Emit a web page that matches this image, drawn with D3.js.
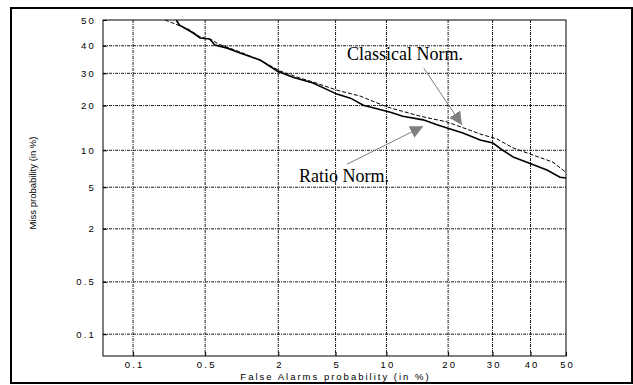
<!DOCTYPE html>
<html>
<head>
<meta charset="utf-8">
<script src="https://cdn.jsdelivr.net/npm/d3@7"></script>
<style>
  body { margin: 0; background: #fff; }
  svg { display: block; }
  .tick text { font-family: "Liberation Sans", Arial, sans-serif; font-size: 9.5px; letter-spacing: 2.2px; fill: #000; }
  .axis-label { font-family: "Liberation Sans", Arial, sans-serif; font-size: 9.5px; fill: #000; }
  .note { font-family: "Liberation Serif", "Times New Roman", serif; font-size: 18px; fill: #000; }
</style>
</head>
<body>
<svg id="chart"></svg>
<script>
// axis ticks (in %)
const xTicks = [0.1, 0.5, 2, 5, 10, 20, 30, 40, 50];
const yTicks = [0.1, 0.5, 2, 5, 10, 20, 30, 40, 50];
const axisMin = 0.0475; // lower limit of both axes (%)
const axisMax = 50;

// Ratio Norm. (solid)
const ratioFA = [0.27, 0.29, 0.39, 0.45, 0.55, 0.61, 0.78, 1.0, 1.45, 1.96, 2.56, 3.55, 5.1, 6.2, 7.4, 10.5, 12.2, 15.4, 18.0, 19.8, 23.1, 27.0, 30.1, 32.6, 35.3, 39.0, 44.6, 48.3, 50];
const ratioMiss = [50, 48.0, 44.9, 43.0, 42.6, 40.3, 39.1, 37.3, 34.7, 30.8, 28.7, 26.8, 23.3, 22.1, 20.1, 18.2, 17.2, 16.3, 15.1, 14.4, 13.3, 11.9, 11.3, 10.0, 8.9, 8.1, 7.0, 6.1, 6.0];

// Classical Norm. (dashed)
const classicalFA = [0.21, 0.25, 0.35, 0.45, 0.58, 0.65, 0.82, 1.1, 1.5, 2.06, 2.88, 3.55, 5.1, 7.1, 10.1, 14.9, 19.8, 24.7, 27.0, 31.1, 35.3, 40.7, 46.3, 48.3, 50];
const classicalMiss = [50, 48.8, 46.5, 43.4, 42.2, 40.7, 39.1, 36.9, 34.3, 30.8, 28.4, 27.1, 24.5, 22.7, 19.6, 17.2, 15.8, 13.9, 13.1, 12.1, 10.4, 9.2, 8.1, 7.3, 6.7];

// annotations: text anchor and arrow from -> to (in %)
const notes = [
  { label: "Classical Norm.", at: [5.9, 34.7], from: [15.5, 31.8], to: [22.9, 15.1] },
  { label: "Ratio Norm.", at: [2.83, 5.55], from: [5.9, 7.8], to: [15.4, 14.8] },
];

// inverse normal CDF (Acklam)
function probit(p) {
  const a = [-3.969683028665376e+01, 2.209460984245205e+02, -2.759285104469687e+02, 1.383577518672690e+02, -3.066479806614716e+01, 2.506628277459239e+00];
  const b = [-5.447609879822406e+01, 1.615858368580409e+02, -1.556989798598866e+02, 6.680131188771972e+01, -1.328068155288572e+01];
  const c = [-7.784894002430293e-03, -3.223964580411365e-01, -2.400758277161838e+00, -2.549732539343734e+00, 4.374664141464968e+00, 2.938163982698783e+00];
  const d = [7.784695709041462e-03, 3.224671290700398e-01, 2.445134137142996e+00, 3.754408661907416e+00];
  const pl = 0.02425;
  let q, r;
  if (p < pl) {
    q = Math.sqrt(-2 * Math.log(p));
    return (((((c[0]*q+c[1])*q+c[2])*q+c[3])*q+c[4])*q+c[5]) / ((((d[0]*q+d[1])*q+d[2])*q+d[3])*q+1);
  }
  if (p <= 1 - pl) {
    q = p - 0.5; r = q * q;
    return (((((a[0]*r+a[1])*r+a[2])*r+a[3])*r+a[4])*r+a[5])*q / (((((b[0]*r+b[1])*r+b[2])*r+b[3])*r+b[4])*r+1);
  }
  q = Math.sqrt(-2 * Math.log(1 - p));
  return -(((((c[0]*q+c[1])*q+c[2])*q+c[3])*q+c[4])*q+c[5]) / ((((d[0]*q+d[1])*q+d[2])*q+d[3])*q+1);
}
const dev = (v) => probit(v / 100);

const W = 633, H = 385;
const margin = { top: 20, right: 67, bottom: 29, left: 103 };
const width = W - margin.left - margin.right;
const height = H - margin.top - margin.bottom;

const svg = d3.select("#chart").attr("width", W).attr("height", H);

// outer frame
svg.append("rect")
  .attr("x", 11).attr("y", 8)
  .attr("width", 621).attr("height", 375)
  .attr("fill", "none").attr("stroke", "#000").attr("stroke-width", 2);

const x = d3.scaleLinear().domain([dev(axisMin), dev(axisMax)]).range([0, width]);
const y = d3.scaleLinear().domain([dev(axisMin), dev(axisMax)]).range([height, 0]);
const px = (v) => x(dev(v));
const py = (v) => y(dev(v));

const g = svg.append("g").attr("transform", `translate(${margin.left},${margin.top})`);

g.append("defs").append("clipPath").attr("id", "plot-clip")
  .append("rect").attr("width", width).attr("height", height);

// grid
const grid = g.append("g")
  .attr("stroke", "#000").attr("stroke-width", 0.9).attr("stroke-dasharray", "3,1,1,1");
grid.selectAll("line.vx")
  .data(xTicks.filter((v) => v < axisMax))
  .join("line")
  .attr("x1", (d) => px(d)).attr("x2", (d) => px(d))
  .attr("y1", 0).attr("y2", height);
grid.selectAll("line.hy")
  .data(yTicks.filter((v) => v < axisMax))
  .join("line")
  .attr("y1", (d) => py(d)).attr("y2", (d) => py(d))
  .attr("x1", 0).attr("x2", width);

// axes
const xAxis = d3.axisBottom(x)
  .tickValues(xTicks.map(dev))
  .tickFormat((d, i) => xTicks[i])
  .tickSizeInner(-4).tickSizeOuter(0).tickPadding(5);
const yAxis = d3.axisLeft(y)
  .tickValues(yTicks.map(dev))
  .tickFormat((d, i) => yTicks[i])
  .tickSizeInner(-4).tickSizeOuter(0).tickPadding(7);

g.append("g").attr("transform", `translate(0,${height})`).call(xAxis)
  .call((s) => s.select(".domain").remove())
  .call((s) => s.selectAll(".tick text").attr("dx", "1.1px"));
g.append("g").call(yAxis)
  .call((s) => s.select(".domain").remove());

// plot box
g.append("rect")
  .attr("width", width).attr("height", height)
  .attr("fill", "none").attr("stroke", "#000").attr("stroke-width", 1);

// curves
const line = d3.line().x((d) => px(d[0])).y((d) => py(d[1]));
const curves = g.append("g").attr("clip-path", "url(#plot-clip)");
curves.append("path")
  .datum(d3.zip(classicalFA, classicalMiss))
  .attr("d", line)
  .attr("fill", "none").attr("stroke", "#000").attr("stroke-width", 1)
  .attr("stroke-dasharray", "4,2");
curves.append("path")
  .datum(d3.zip(ratioFA, ratioMiss))
  .attr("d", line)
  .attr("fill", "none").attr("stroke", "#000").attr("stroke-width", 1.6);

// annotations
g.append("defs").append("marker")
  .attr("id", "head")
  .attr("viewBox", "0 -5 10 10")
  .attr("refX", 10).attr("refY", 0)
  .attr("markerWidth", 13).attr("markerHeight", 13)
  .attr("markerUnits", "userSpaceOnUse")
  .attr("orient", "auto")
  .append("path").attr("d", "M0,-5L10,0L0,5Z").attr("fill", "#808080");

const note = g.selectAll("g.note").data(notes).join("g");
note.append("line")
  .attr("x1", (d) => px(d.from[0])).attr("y1", (d) => py(d.from[1]))
  .attr("x2", (d) => px(d.to[0])).attr("y2", (d) => py(d.to[1]))
  .attr("stroke", "#808080").attr("stroke-width", 1)
  .attr("marker-end", "url(#head)");
note.append("text")
  .classed("note", true)
  .attr("x", (d) => px(d.at[0])).attr("y", (d) => py(d.at[1]))
  .text((d) => d.label);

// axis labels
svg.append("text")
  .classed("axis-label", true)
  .attr("x", margin.left + width / 2 + 1).attr("y", 379.5)
  .attr("text-anchor", "middle")
  .attr("letter-spacing", "2px")
  .text("False Alarms probability (in %)");
svg.append("text")
  .classed("axis-label", true)
  .attr("transform", `translate(36,${183}) rotate(-90)`)
  .attr("text-anchor", "middle")
  .text("Miss probability (in %)");
</script>
</body>
</html>
